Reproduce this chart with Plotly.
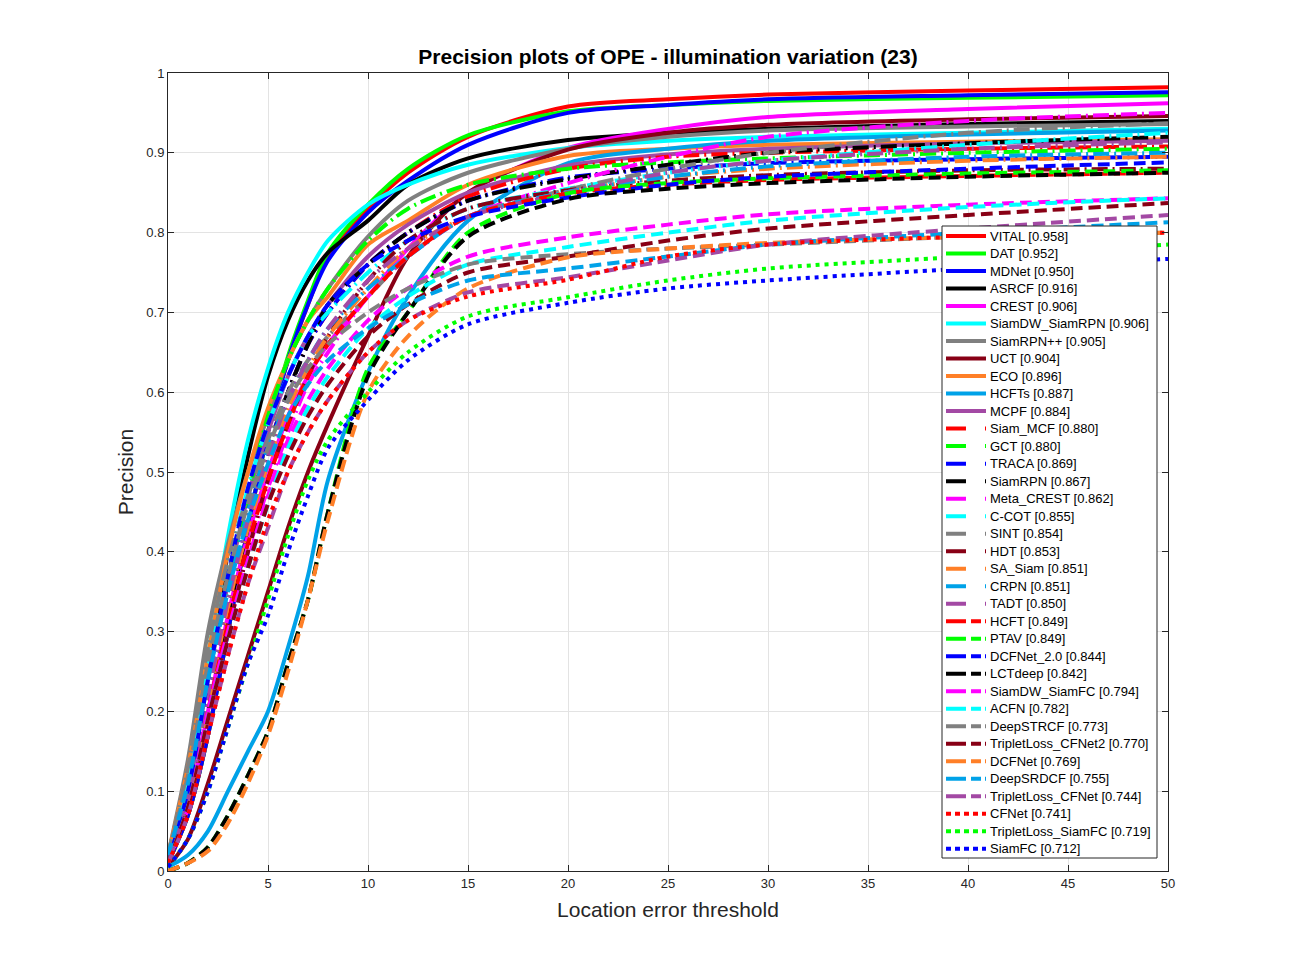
import plotly.graph_objects as go

thresholds = [0, 1, 2, 3, 4, 5, 6, 7, 8, 10, 12, 15, 20, 25, 30, 40, 50]

trackers = ["VITAL", "DAT", "MDNet", "ASRCF", "CREST", "SiamDW_SiamRPN", "SiamRPN++", "UCT",
            "ECO", "HCFTs", "MCPF", "Siam_MCF", "GCT", "TRACA", "SiamRPN", "Meta_CREST",
            "C-COT", "SINT", "HDT", "SA_Siam", "CRPN", "TADT", "HCFT", "PTAV", "DCFNet_2.0",
            "LCTdeep", "SiamDW_SiamFC", "ACFN", "DeepSTRCF", "TripletLoss_CFNet2", "DCFNet",
            "DeepSRDCF", "TripletLoss_CFNet", "CFNet", "TripletLoss_SiamFC", "SiamFC"]

scores = [0.958, 0.952, 0.950, 0.916, 0.906, 0.906, 0.905, 0.904, 0.896, 0.887, 0.884,
          0.880, 0.880, 0.869, 0.867, 0.862, 0.855, 0.854, 0.853, 0.851, 0.851, 0.850,
          0.849, 0.849, 0.844, 0.842, 0.794, 0.782, 0.773, 0.770, 0.769, 0.755, 0.744,
          0.741, 0.719, 0.712]

VITAL = [0.01, 0.07, 0.17, 0.30, 0.43, 0.55, 0.64, 0.71, 0.77, 0.83, 0.875, 0.92, 0.958, 0.967, 0.973, 0.978, 0.982]
DAT = [0.01, 0.07, 0.17, 0.30, 0.43, 0.55, 0.645, 0.715, 0.775, 0.835, 0.88, 0.922, 0.952, 0.96, 0.965, 0.969, 0.972]
MDNet = [0.01, 0.07, 0.17, 0.30, 0.43, 0.55, 0.64, 0.71, 0.765, 0.825, 0.865, 0.91, 0.950, 0.96, 0.967, 0.972, 0.976]
ASRCF = [0.01, 0.10, 0.25, 0.40, 0.52, 0.62, 0.69, 0.74, 0.775, 0.815, 0.86, 0.893, 0.916, 0.925, 0.93, 0.936, 0.94]
CREST = [0.01, 0.08, 0.20, 0.32, 0.42, 0.50, 0.57, 0.62, 0.66, 0.72, 0.78, 0.85, 0.906, 0.93, 0.945, 0.955, 0.962]
SiamDW_SiamRPN = [0.02, 0.12, 0.27, 0.42, 0.54, 0.63, 0.70, 0.75, 0.79, 0.835, 0.86, 0.885, 0.906, 0.915, 0.92, 0.925, 0.93]
SiamRPNpp = [0.02, 0.14, 0.30, 0.41, 0.50, 0.57, 0.64, 0.69, 0.73, 0.795, 0.84, 0.875, 0.905, 0.92, 0.928, 0.933, 0.936]
UCT = [0.005, 0.04, 0.11, 0.19, 0.27, 0.35, 0.43, 0.50, 0.56, 0.67, 0.77, 0.85, 0.904, 0.925, 0.935, 0.942, 0.946]
ECO = [0.02, 0.13, 0.27, 0.40, 0.50, 0.58, 0.64, 0.69, 0.72, 0.785, 0.815, 0.86, 0.896, 0.905, 0.91, 0.914, 0.917]
HCFTs = [0.005, 0.02, 0.05, 0.10, 0.15, 0.20, 0.28, 0.37, 0.49, 0.625, 0.72, 0.815, 0.887, 0.905, 0.915, 0.923, 0.928]
MCPF = [0.01, 0.10, 0.24, 0.36, 0.47, 0.55, 0.62, 0.67, 0.71, 0.77, 0.81, 0.85, 0.884, 0.898, 0.905, 0.912, 0.915]
Siam_MCF = [0.01, 0.09, 0.21, 0.33, 0.44, 0.53, 0.60, 0.66, 0.70, 0.76, 0.80, 0.845, 0.880, 0.895, 0.90, 0.905, 0.908]
GCT = [0.01, 0.09, 0.22, 0.35, 0.47, 0.57, 0.64, 0.69, 0.73, 0.79, 0.83, 0.86, 0.880, 0.888, 0.893, 0.90, 0.905]
TRACA = [0.01, 0.09, 0.22, 0.34, 0.45, 0.53, 0.60, 0.66, 0.70, 0.76, 0.80, 0.84, 0.869, 0.88, 0.887, 0.892, 0.895]
SiamRPN = [0.01, 0.08, 0.20, 0.32, 0.43, 0.52, 0.60, 0.66, 0.71, 0.76, 0.80, 0.84, 0.867, 0.885, 0.90, 0.912, 0.92]
Meta_CREST = [0.01, 0.08, 0.19, 0.30, 0.40, 0.48, 0.55, 0.61, 0.65, 0.72, 0.77, 0.82, 0.862, 0.895, 0.92, 0.94, 0.95]
C_COT = [0.02, 0.12, 0.26, 0.38, 0.48, 0.56, 0.62, 0.67, 0.70, 0.75, 0.79, 0.83, 0.855, 0.875, 0.89, 0.91, 0.925]
SINT = [0.02, 0.13, 0.28, 0.39, 0.47, 0.54, 0.60, 0.64, 0.67, 0.72, 0.77, 0.82, 0.854, 0.88, 0.90, 0.925, 0.937]
HDT = [0.01, 0.08, 0.19, 0.30, 0.40, 0.49, 0.56, 0.62, 0.67, 0.74, 0.79, 0.83, 0.853, 0.865, 0.872, 0.878, 0.88]
SA_Siam = [0.01, 0.09, 0.21, 0.33, 0.43, 0.51, 0.58, 0.63, 0.67, 0.73, 0.78, 0.82, 0.851, 0.87, 0.88, 0.89, 0.895]
CRPN = [0.01, 0.10, 0.23, 0.35, 0.45, 0.53, 0.59, 0.64, 0.68, 0.73, 0.77, 0.82, 0.851, 0.87, 0.883, 0.895, 0.90]
TADT = [0.01, 0.09, 0.22, 0.34, 0.44, 0.52, 0.59, 0.64, 0.68, 0.74, 0.78, 0.82, 0.850, 0.875, 0.89, 0.905, 0.913]
HCFT = [0.01, 0.08, 0.20, 0.31, 0.41, 0.49, 0.56, 0.62, 0.66, 0.72, 0.77, 0.82, 0.849, 0.86, 0.866, 0.871, 0.875]
PTAV = [0.0, 0.01, 0.03, 0.07, 0.12, 0.175, 0.26, 0.34, 0.45, 0.63, 0.70, 0.80, 0.849, 0.862, 0.868, 0.874, 0.878]
DCFNet_2 = [0.01, 0.10, 0.24, 0.37, 0.48, 0.56, 0.62, 0.67, 0.71, 0.76, 0.79, 0.82, 0.844, 0.86, 0.87, 0.88, 0.888]
LCTdeep = [0.0, 0.01, 0.03, 0.07, 0.12, 0.175, 0.26, 0.34, 0.45, 0.62, 0.70, 0.795, 0.842, 0.855, 0.862, 0.87, 0.875]
SiamDW_SiamFC = [0.01, 0.08, 0.20, 0.30, 0.39, 0.47, 0.54, 0.59, 0.63, 0.69, 0.73, 0.77, 0.794, 0.81, 0.823, 0.835, 0.843]
ACFN = [0.01, 0.08, 0.19, 0.29, 0.38, 0.46, 0.53, 0.58, 0.62, 0.68, 0.72, 0.76, 0.782, 0.80, 0.815, 0.832, 0.843]
DeepSTRCF = [0.02, 0.12, 0.26, 0.37, 0.46, 0.53, 0.59, 0.63, 0.66, 0.70, 0.73, 0.76, 0.773, 0.78, 0.785, 0.795, 0.80]
TripletLoss_CFNet2 = [0.01, 0.08, 0.19, 0.29, 0.38, 0.46, 0.52, 0.57, 0.61, 0.67, 0.71, 0.75, 0.770, 0.79, 0.805, 0.822, 0.837]
DCFNet = [0.0, 0.01, 0.025, 0.06, 0.11, 0.17, 0.25, 0.34, 0.44, 0.60, 0.67, 0.73, 0.769, 0.78, 0.787, 0.795, 0.80]
DeepSRDCF = [0.02, 0.11, 0.24, 0.35, 0.44, 0.51, 0.57, 0.61, 0.64, 0.68, 0.71, 0.74, 0.755, 0.77, 0.785, 0.80, 0.813]
TripletLoss_CFNet = [0.01, 0.07, 0.17, 0.27, 0.36, 0.43, 0.50, 0.55, 0.59, 0.65, 0.69, 0.725, 0.744, 0.765, 0.785, 0.805, 0.822]
CFNet = [0.01, 0.07, 0.17, 0.27, 0.36, 0.44, 0.50, 0.55, 0.59, 0.65, 0.69, 0.72, 0.741, 0.77, 0.785, 0.795, 0.80]
TripletLoss_SiamFC = [0.005, 0.04, 0.10, 0.18, 0.26, 0.34, 0.42, 0.49, 0.54, 0.60, 0.65, 0.695, 0.719, 0.74, 0.755, 0.77, 0.785]
SiamFC = [0.005, 0.04, 0.10, 0.18, 0.26, 0.32, 0.40, 0.47, 0.53, 0.59, 0.64, 0.685, 0.712, 0.73, 0.74, 0.755, 0.767]

curves = [VITAL, DAT, MDNet, ASRCF, CREST, SiamDW_SiamRPN, SiamRPNpp, UCT, ECO, HCFTs, MCPF,
          Siam_MCF, GCT, TRACA, SiamRPN, Meta_CREST, C_COT, SINT, HDT, SA_Siam, CRPN, TADT,
          HCFT, PTAV, DCFNet_2, LCTdeep, SiamDW_SiamFC, ACFN, DeepSTRCF, TripletLoss_CFNet2,
          DCFNet, DeepSRDCF, TripletLoss_CFNet, CFNet, TripletLoss_SiamFC, SiamFC]

palette = ["#FF0000", "#00FF00", "#0000FF", "#000000", "#FF00FF", "#00FFFF", "#808080",
           "#880015", "#FF7F27", "#00A2E8", "#A349A4"]
styles = ["solid"] * 11 + ["dashdot"] * 11 + ["dash"] * 11 + ["dot"] * 3
dash_map = {"solid": "solid", "dashdot": "16px,5px,2px,5px", "dash": "12px,6px", "dot": "4px,5px"}
legend_dash = {"solid": "solid", "dashdot": "20px,19px,1px,40px", "dash": "20px,5px,10px,4px,1px,40px",
               "dot": "5px,4px"}

# ---- figure geometry (page has an 8px body margin) ----
W, H = 1286, 971
ML, MR, MT, MB = 160, 126, 65, 108
PX0, PY0 = 8 + ML, 8 + MT                  # plot area top-left on page
PW, PH = W - ML - MR, H - MT - MB          # plot area size


def px_to_paper_x(px):
    return (px - PX0) / PW


def py_to_paper_y(py):
    return (PY0 + PH - py) / PH


font_family = "Liberation Sans, Arial, Helvetica, sans-serif"

fig = go.Figure()
for i, (name, sc, ys) in enumerate(zip(trackers, scores, curves)):
    fig.add_trace(go.Scatter(
        x=thresholds, y=ys, mode="lines",
        name=f"{name} [{sc:.3f}]", showlegend=False,
        line=dict(color=palette[i % 11], width=4, dash=dash_map[styles[i]],
                  shape="spline", smoothing=0.8),
    ))

# ---- legend box drawn as layout (row spacing matches the reference) ----
box_l, box_r, box_t, box_b = 942, 1157, 226, 858
row0, row_step = 236.0, 17.51
shapes = [dict(type="rect", xref="paper", yref="paper", layer="above",
               x0=px_to_paper_x(box_l), x1=px_to_paper_x(box_r),
               y0=py_to_paper_y(box_b), y1=py_to_paper_y(box_t),
               fillcolor="white", line=dict(color="#262626", width=1))]
annotations = []
for i, (name, sc) in enumerate(zip(trackers, scores)):
    yy = py_to_paper_y(row0 + row_step * i)
    shapes.append(dict(type="line", xref="paper", yref="paper", layer="above",
                       x0=px_to_paper_x(946), x1=px_to_paper_x(986), y0=yy, y1=yy,
                       line=dict(color=palette[i % 11], width=4, dash=legend_dash[styles[i]])))
    annotations.append(dict(xref="paper", yref="paper", x=px_to_paper_x(988), y=yy,
                            xanchor="left", yanchor="middle", showarrow=False,
                            text=f"{name} [{sc:.3f}]",
                            font=dict(size=13, color="black", family=font_family)))

fig.update_layout(
    width=W, height=H,
    paper_bgcolor="white", plot_bgcolor="white",
    margin=dict(l=ML, r=MR, t=MT, b=MB),
    font=dict(family=font_family, size=13, color="#262626"),
    title=dict(text="<b>Precision plots of OPE - illumination variation (23)</b>",
               x=0.5, xref="paper", xanchor="center",
               y=1 - 49 / H, yref="container", yanchor="middle",
               font=dict(size=21, color="black", family=font_family)),
    showlegend=False,
    shapes=shapes,
    annotations=annotations,
)
fig.update_xaxes(range=[0, 50], tickvals=list(range(0, 51, 5)),
                 showgrid=True, gridcolor="#e3e3e3", gridwidth=1,
                 showline=True, linecolor="#262626", linewidth=1, mirror="ticks",
                 ticks="inside", ticklen=6, tickcolor="#262626",
                 zeroline=False, tickfont=dict(size=13),
                 title=dict(text="Location error threshold", font=dict(size=21, color="#262626"), standoff=12))
fig.update_yaxes(range=[0, 1], tickvals=[i / 10 for i in range(11)],
                 ticktext=["0", "0.1", "0.2", "0.3", "0.4", "0.5", "0.6", "0.7", "0.8", "0.9", "1"],
                 showgrid=True, gridcolor="#e3e3e3", gridwidth=1,
                 showline=True, linecolor="#262626", linewidth=1, mirror="ticks",
                 ticks="inside", ticklen=6, tickcolor="#262626",
                 zeroline=False, tickfont=dict(size=13),
                 title=dict(text="Precision", font=dict(size=21, color="#262626"), standoff=6))

fig.write_html("out.html")
